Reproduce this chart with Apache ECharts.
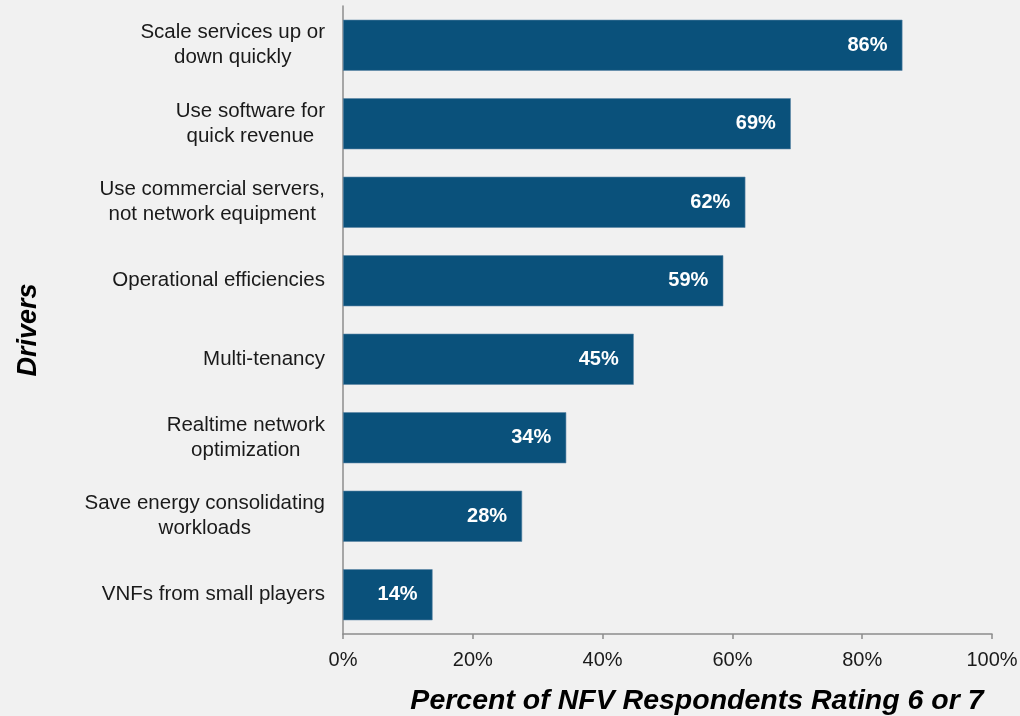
<!DOCTYPE html>
<html>
<head>
<meta charset="utf-8">
<script src="https://cdn.jsdelivr.net/npm/echarts@6/dist/echarts.min.js"></script>
<style>
html,body{margin:0;padding:0;background:#f1f1f1;}
#chart{width:1020px;height:716px;}
</style>
</head>
<body>
<div id="chart"></div>
<script>
const categories = [
  "Scale services up or\ndown quickly",
  "Use software for\nquick revenue",
  "Use commercial servers,\nnot network equipment",
  "Operational efficiencies",
  "Multi-tenancy",
  "Realtime network\noptimization",
  "Save energy consolidating\nworkloads",
  "VNFs from small players"
];
const values = [86.2, 69.0, 62.0, 58.6, 44.8, 34.4, 27.6, 13.8];
const xTicks = [0, 20, 40, 60, 80, 100];
const xTitle = "Percent of NFV Respondents Rating 6 or 7";
const yTitle = "Drivers";

const chart = echarts.init(document.getElementById('chart'));
const font = "'Liberation Sans', Arial, Helvetica, sans-serif";
const titleStyle = {fontFamily: font, fontWeight: 'bold', fontStyle: 'italic', fill: '#000'};
chart.setOption({
  backgroundColor: '#f1f1f1',
  animation: false,
  grid: {left: 343, right: 28, top: 6, bottom: 82, containLabel: false, outerBoundsMode: 'none'},
  graphic: [
    {type: 'text', x: 697, y: 701, style: Object.assign({text: xTitle, align: 'center', verticalAlign: 'middle', fontSize: 28.5}, titleStyle)},
    {type: 'text', x: 29, y: 330, rotation: Math.PI / 2, style: Object.assign({text: yTitle, align: 'center', verticalAlign: 'middle', fontSize: 27}, titleStyle)}
  ],
  xAxis: {
    type: 'value',
    min: xTicks[0], max: xTicks[xTicks.length - 1], interval: 20,
    splitLine: {show: false},
    axisLine: {show: true, lineStyle: {color: '#8c8c8c', width: 1.5}},
    axisTick: {show: true, length: 5, lineStyle: {color: '#8c8c8c', width: 1.5}},
    axisLabel: {formatter: '{value}%', fontFamily: font, fontSize: 20, color: '#1a1a1a', margin: 16}
  },
  yAxis: {
    type: 'category',
    data: categories,
    inverse: true,
    axisLine: {show: true, lineStyle: {color: '#8c8c8c', width: 1.5}},
    axisTick: {show: false},
    axisLabel: {
      margin: 18,
      formatter: function (v) { return v.split('\n').map(s => '{a|' + s + '}').join('\n'); },
      rich: {a: {fontFamily: font, fontSize: 20.5, color: '#1a1a1a', lineHeight: 25, align: 'center'}}
    }
  },
  series: [{
    type: 'bar',
    data: values,
    barCategoryGap: '35%',
    itemStyle: {color: '#0a517b', borderColor: '#5d87a6', borderWidth: 0.6},
    label: {
      show: true, position: 'insideRight', distance: 15,
      formatter: p => Math.round(p.value) + '%',
      fontFamily: font, fontSize: 20, fontWeight: 'bold', color: '#ffffff'
    }
  }]
});
</script>
</body>
</html>
